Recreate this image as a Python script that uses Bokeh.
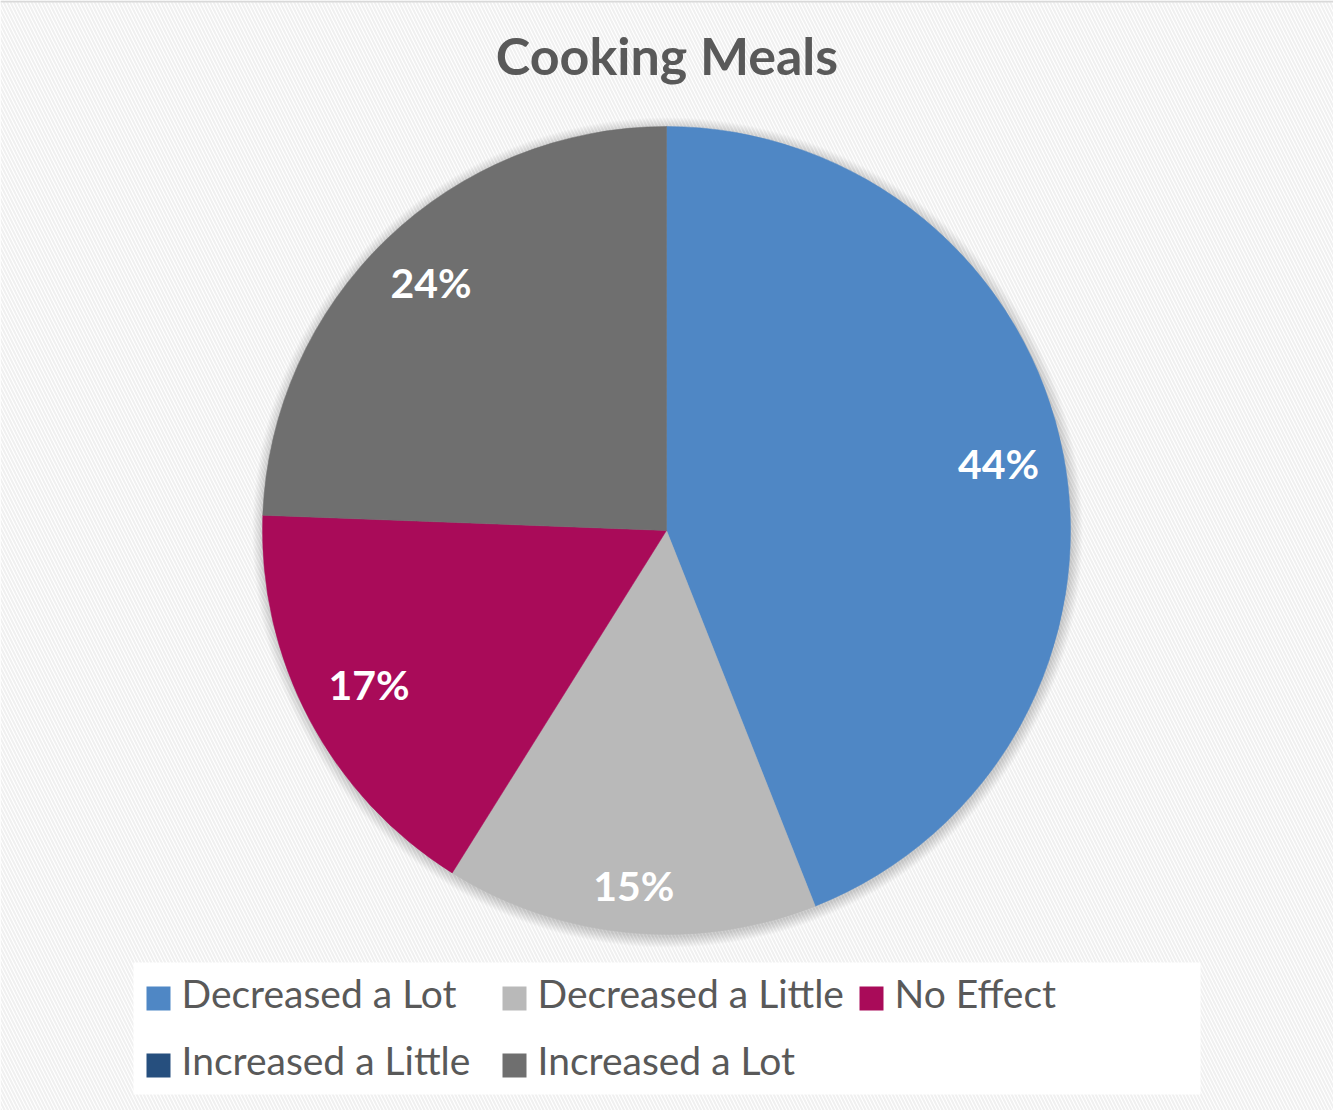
import math
from bokeh.plotting import figure
from bokeh.models import ColumnDataSource
from bokeh.core.properties import value
from bokeh.embed import file_html
from bokeh.resources import INLINE

# ---- data ----
title_text = "Cooking Meals"
categories = ["Decreased a Lot", "Decreased a Little", "No Effect",
              "Increased a Little", "Increased a Lot"]
shares = [44.0, 14.9, 16.7, 0.0, 24.4]
colors = ["#4F87C5", "#B9B9B9", "#A90B59", "#264F7E", "#6F6F6F"]

# ---- layout constants (pixels) ----
W, H = 1333, 1110
CX, CY, R = 666, H - 530, 404
FONT = "Lato"
BL = 0.42  # baseline compensation (fraction of font size)

p = figure(width=W, height=H, x_range=(0, W), y_range=(0, H),
           x_axis_type=None, y_axis_type=None, toolbar_location=None,
           output_backend="svg", min_border=0)
p.grid.visible = False
p.outline_line_color = None
p.background_fill_color = "white"
p.border_fill_color = "white"

# hatched background
p.quad(left=[0], right=[W], bottom=[0], top=[H], fill_color="white",
       line_color=None, hatch_pattern="left_diagonal_line",
       hatch_color="#f0f0f0", hatch_scale=7, hatch_weight=2)
p.segment(x0=[0], x1=[W], y0=[H - 1], y1=[H - 1], line_color="#d9d9d9", line_width=2)

# title
ts = 52
p.text(x=[W / 2], y=[H - 76 + BL * ts], text=[title_text], text_font=value(FONT),
       text_font_style="bold", text_font_size=f"{ts}px", text_color="#595959",
       text_align="center", text_baseline="alphabetic")

# pie shadow
for k in range(1, 12):
    p.circle(x=[CX + 1], y=[CY - 2], radius=R + k, fill_color="black",
             fill_alpha=0.016, line_color=None)

# wedges
total = sum(shares)
starts, ends, cols, labx, laby, labt = [], [], [], [], [], []
cum = 0.0
tw, th = 84, 40
pad = 21
ls = 41
for cat, v, c in zip(categories, shares, colors):
    a0 = cum / total
    cum += v
    a1 = cum / total
    if v <= 0:
        continue
    starts.append(math.pi / 2 - 2 * math.pi * a0)
    ends.append(math.pi / 2 - 2 * math.pi * a1)
    cols.append(c)
    mid = (a0 + a1) / 2 * 2 * math.pi  # clockwise from top
    s, co = math.sin(mid), math.cos(mid)
    ext = abs(s) * tw / 2 + abs(co) * th / 2
    rl = R - pad - ext
    labx.append(CX + rl * s)
    laby.append(CY + rl * co - 14 + BL * ls)
    labt.append(f"{round(v / total * 100)}%")

src = ColumnDataSource(dict(start=starts, end=ends, color=cols))
p.wedge(x=CX, y=CY, radius=R, start_angle="start", end_angle="end",
        direction="clock", fill_color="color", line_color="color",
        line_width=0.5, source=src)

p.text(x=labx, y=laby, text=labt, text_font=value(FONT), text_font_style="bold",
       text_font_size=f"{ls}px", text_color="white", text_align="center",
       text_baseline="alphabetic")

# legend box
p.quad(left=[133], right=[1200], bottom=[H - 1094], top=[H - 962],
       fill_color="white", line_color=None)
col_x = [158, 514, 871]
row_y = [H - 998, H - 1065]
gs = 39
sq_x, sq_y, sq_c, tx, ty, tt = [], [], [], [], [], []
for i, (cat, c) in enumerate(zip(categories, colors)):
    r, cidx = divmod(i, 3)
    sq_x.append(col_x[cidx]); sq_y.append(row_y[r]); sq_c.append(c)
    tx.append(col_x[cidx] + 23); ty.append(row_y[r] - 11 + BL * gs); tt.append(cat)
p.rect(x=sq_x, y=sq_y, width=24, height=24, fill_color=sq_c, line_color=None)
p.text(x=tx, y=ty, text=tt, text_font=value(FONT), text_font_size=f"{gs}px",
       text_color="#595959", text_align="left", text_baseline="alphabetic")

open("out.html", "w").write(file_html(p, INLINE))
